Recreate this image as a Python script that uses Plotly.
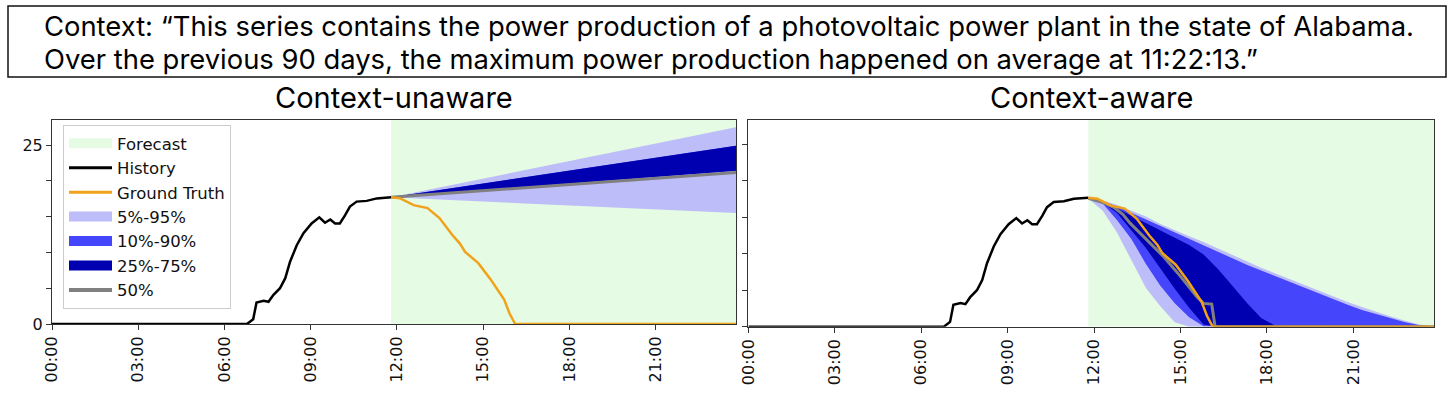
import plotly.graph_objects as go

DAY = "2024-01-01 "
W, H = 1456, 394

# ---------------- data ----------------
hist_t = ["00:00", "06:47", "07:00", "07:07", "07:22", "07:32", "07:42", "07:56", "08:07", "08:17",
          "08:31", "08:45", "09:02", "09:18", "09:30", "09:41", "09:51", "10:01", "10:12", "10:22",
          "10:36", "10:57", "11:18", "11:48"]
hist_v = [0, 0, 0.66, 3.0, 3.25, 3.1, 4.05, 5.0, 6.4, 8.7,
          11.0, 12.7, 14.05, 14.9, 14.15, 14.6, 14.05, 14.05, 15.2, 16.4,
          17.1, 17.2, 17.55, 17.7]

gt_t = ["11:48", "12:07", "12:35", "13:04", "13:29", "13:55", "14:12", "14:22", "14:50", "15:15",
        "15:44", "15:55", "16:07", "23:48"]
gt_v = [17.7, 17.55, 16.6, 16.2, 14.8, 12.5, 11.2, 10.1, 8.5, 6.3,
        3.4, 1.5, 0.0, 0.0]

forecast_start = "11:48"
range_end = "23:48"

# Context-unaware forecast quantiles
fan_t = ["11:48", "23:48"]
un_q05 = [17.7, 15.5]
un_q10 = [17.7, 21.4]
un_q25 = [17.7, 21.4]
un_q50 = [17.7, 21.15]
un_q75 = [17.7, 24.9]
un_q90 = [17.7, 24.9]
un_q95 = [17.7, 27.5]

# Context-aware forecast quantiles
aw_t = ["11:48", "12:18", "12:48", "13:18", "13:48", "14:18", "14:48", "15:18", "15:48", "16:18",
        "16:48", "17:18", "17:48", "18:18", "18:48", "19:18", "19:48", "20:18", "20:48", "21:18",
        "21:48", "22:18", "22:48", "23:18", "23:48"]
aw_q05 = [17.6, 15.9, 12.9, 9.0, 5.3, 2.8, 0.6, 0, 0, 0,
          0, 0, 0, 0, 0, 0, 0, 0, 0, 0,
          0, 0, 0, 0, 0]
aw_q10 = [17.6, 16.9, 14.6, 12.0, 8.6, 5.6, 3.2, 1.3, 0.05, 0,
          0, 0, 0, 0, 0, 0, 0, 0, 0, 0,
          0, 0, 0, 0, 0]
aw_q25 = [17.6, 17.0, 15.6, 13.2, 10.8, 8.0, 5.2, 2.6, 0.3, 0,
          0, 0, 0, 0, 0, 0, 0, 0, 0, 0,
          0, 0, 0, 0, 0]
aw_q75 = [17.6, 17.1, 16.2, 15.2, 14.2, 13.2, 12.2, 11.2, 9.9, 7.9,
          5.6, 3.3, 1.2, 0.1, 0, 0, 0, 0, 0, 0,
          0, 0, 0, 0, 0]
aw_q90 = [17.6, 17.2, 16.5, 15.6, 14.8, 13.8, 12.9, 12.0, 11.1, 10.2,
          9.3, 8.5, 7.7, 6.9, 6.1, 5.3, 4.5, 3.8, 3.0, 2.3,
          1.7, 1.1, 0.6, 0.2, 0]
aw_q95 = [17.6, 17.3, 16.7, 15.9, 15.1, 14.1, 13.2, 12.4, 11.6, 10.7,
          9.9, 9.0, 8.1, 7.3, 6.5, 5.7, 4.9, 4.1, 3.4, 2.7,
          2.0, 1.4, 0.8, 0.3, 0]
aw_med_t = ["11:48", "12:20", "12:40", "13:00", "13:15", "13:50", "14:25", "15:00", "15:34", "15:48",
            "16:05", "16:12", "23:48"]
aw_med_v = [17.6, 17.0, 16.4, 15.4, 14.2, 11.9, 9.6, 6.9, 4.1, 3.2,
            3.1, 0.0, 0.0]

x_tick_labels = ["00:00", "03:00", "06:00", "09:00", "12:00", "15:00", "18:00", "21:00"]
y_tick_vals = [0, 5, 10, 15, 20, 25]
y_tick_text = ["0", "", "", "", "", "25"]

titles = ["Context-unaware", "Context-aware"]
context_lines = [
    "Context: \u201cThis series contains the power production of a photovoltaic power plant in the state of Alabama.",
    "Over the previous 90 days, the maximum power production happened on average at 11:22:13.\u201d",
]
legend_names = ["Forecast", "History", "Ground Truth", "5%-95%", "10%-90%", "25%-75%", "50%"]

# ---------------- styles ----------------
C_FORE = "#e5fbe3"
C_Q95 = "#bdbdf9"
C_Q90 = "#4545fb"
C_Q75 = "#0000b0"
C_MED = "#808080"
C_GT = "#f0a31a"
C_HIST = "#000000"
Y_TOP = 30


def ts(lst):
    return [DAY + t for t in lst]


fig = go.Figure()


def add_panel(sfx, qs, fan_times, med_t, med_v):
    q05, q10, q25, q75, q90, q95 = qs
    common = dict(xaxis="x" + sfx, yaxis="y" + sfx, showlegend=False, hoverinfo="skip")
    fig.add_trace(go.Scatter(
        x=ts([forecast_start, range_end, range_end, forecast_start]),
        y=[0, 0, Y_TOP, Y_TOP], fill="toself", fillcolor=C_FORE, mode="lines",
        line=dict(width=0), name="Forecast", **common))
    bands = [(q05, q95, C_Q95, "5%-95%"), (q10, q90, C_Q90, "10%-90%"), (q25, q75, C_Q75, "25%-75%")]
    for lo, hi, col, nm in bands:
        fig.add_trace(go.Scatter(
            x=ts(fan_times) + ts(fan_times[::-1]), y=list(hi) + list(lo[::-1]),
            fill="toself", fillcolor=col, mode="lines", line=dict(width=0), name=nm, **common))
    fig.add_trace(go.Scatter(x=ts(med_t), y=med_v, mode="lines", line=dict(color=C_MED, width=3),
                             name="50%", **common))
    fig.add_trace(go.Scatter(x=ts(hist_t), y=hist_v, mode="lines", line=dict(color=C_HIST, width=2.5),
                             name="History", **common))
    fig.add_trace(go.Scatter(x=ts(gt_t), y=gt_v, mode="lines", line=dict(color=C_GT, width=2.5),
                             name="Ground Truth", **common))


add_panel("", (un_q05, un_q10, un_q25, un_q75, un_q90, un_q95), fan_t, fan_t, un_q50)
add_panel("2", (aw_q05, aw_q10, aw_q25, aw_q75, aw_q90, aw_q95), aw_t, aw_med_t, aw_med_v)

# legend entries (patches drawn as thick legend strokes)
legend_styles = [(C_FORE, 10), (C_HIST, 3), (C_GT, 3), (C_Q95, 10), (C_Q90, 10), (C_Q75, 10), (C_MED, 4)]
for nm, (col, lw) in zip(legend_names, legend_styles):
    fig.add_trace(go.Scatter(x=[None], y=[None], mode="lines", line=dict(color=col, width=lw),
                             name=nm, showlegend=True, xaxis="x", yaxis="y"))

tickfont = dict(family="DejaVu Sans", size=16, color="#111111")
xcommon = dict(type="date", range=[DAY + "00:00", DAY + range_end],
               tickvals=ts(x_tick_labels), ticktext=x_tick_labels, tickangle=-90,
               ticks="outside", ticklen=5, tickcolor="#333333", showline=True, mirror=True,
               linecolor="#333333", linewidth=1, showgrid=False, zeroline=False, tickfont=tickfont,
               automargin=False)
ycommon = dict(tickvals=y_tick_vals, ticks="outside", ticklen=5, tickcolor="#333333",
               showline=True, mirror=True, linecolor="#333333", linewidth=1, showgrid=False,
               zeroline=False, tickfont=tickfont, automargin=False)

L1, R1 = 52, 736
L2, R2 = 748.4, 1434
TOP = 120
B1, B2 = 324, 326.7

fig.update_layout(
    width=W, height=H, margin=dict(l=0, r=0, t=0, b=0, autoexpand=False),
    paper_bgcolor="white", plot_bgcolor="white",
    xaxis=dict(domain=[L1 / W, R1 / W], anchor="y", **xcommon),
    yaxis=dict(domain=[(H - B1) / H, (H - TOP) / H], anchor="x", range=[0, 28.5],
               ticktext=y_tick_text, **ycommon),
    xaxis2=dict(domain=[L2 / W, R2 / W], anchor="y2", **xcommon),
    yaxis2=dict(domain=[(H - B2) / H, (H - TOP) / H], anchor="x2", range=[0, 28.35],
                showticklabels=False, **ycommon),
    legend=dict(x=63 / W, y=(H - 125) / H, xanchor="left", yanchor="top", bgcolor="white",
                bordercolor="#cccccc", borderwidth=1, font=dict(family="DejaVu Sans", size=16.5, color="#111"),
                tracegroupgap=0, itemwidth=43),
    showlegend=True,
)

# context box
fig.add_shape(type="rect", xref="paper", yref="paper", x0=8 / W, x1=1446 / W,
              y0=(H - 77) / H, y1=(H - 6) / H, line=dict(color="#111111", width=1.5))
for line, ypx in zip(context_lines, [26, 59]):
    fig.add_annotation(x=42 / W, y=(H - ypx) / H, xref="paper", yref="paper", xanchor="left",
                       yanchor="middle", text=line, showarrow=False,
                       font=dict(family="Inter", size=27.4, color="#000000"))
for t, cx in zip(titles, [(L1 + R1) / 2, (L2 + R2) / 2]):
    fig.add_annotation(x=cx / W, y=(H - 97) / H, xref="paper", yref="paper", xanchor="center",
                       yanchor="middle", text=t, showarrow=False,
                       font=dict(family="Inter", size=29, color="#000000"))

fig.write_html("out.html", config={"displayModeBar": False},
               post_script="document.body.style.margin='0px';")
